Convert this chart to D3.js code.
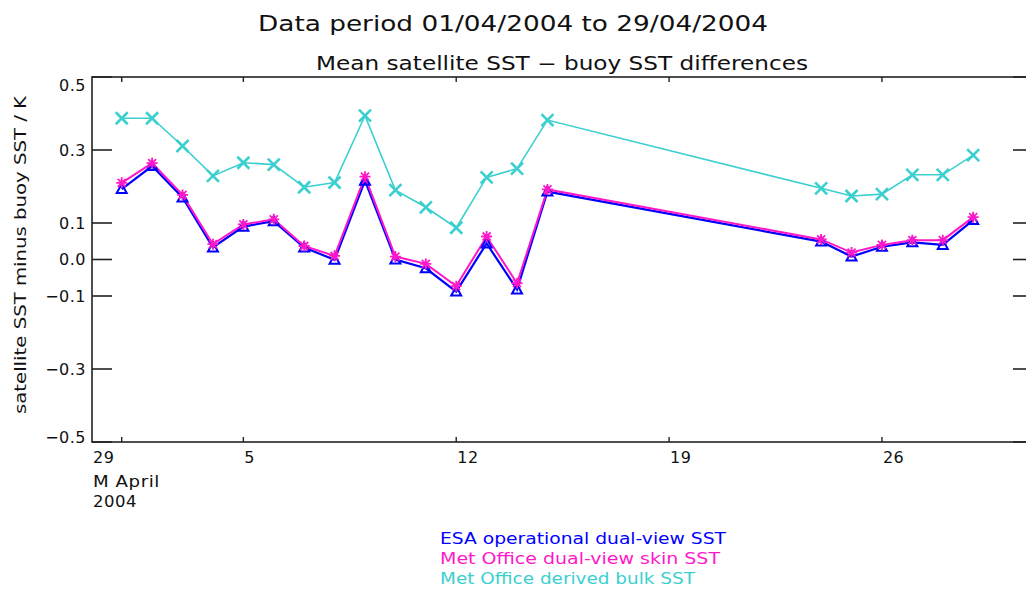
<!DOCTYPE html>
<html>
<head>
<meta charset="utf-8">
<title>Mean satellite SST - buoy SST differences</title>
<script src="https://d3js.org/d3.v7.min.js"></script>
<style>
	body { margin: 0; background: #fff; }
	svg { display: block; font-family: "DejaVu Sans", sans-serif; }
	.tick-label { font-size: 16px; fill: #111; letter-spacing: 0.5px; }
</style>
</head>
<body>
<svg width="1026" height="592"></svg>
<script>

// days of April 2004 that have data
var days = [1, 2, 3, 4, 5, 6, 7, 8, 9, 10, 11, 12, 13, 14, 15, 24, 25, 26, 27, 28, 29];

var esaSST  = [0.193, 0.256, 0.170, 0.033, 0.090, 0.105, 0.033, -0.001, 0.216, 0.000, -0.024, -0.088, 0.044, -0.082, 0.186,
               0.049, 0.008, 0.035, 0.047, 0.040, 0.108];
var skinSST = [0.210, 0.264, 0.177, 0.042, 0.096, 0.110, 0.037, 0.010, 0.227, 0.008, -0.012, -0.073, 0.063, -0.065, 0.192,
               0.055, 0.019, 0.040, 0.053, 0.053, 0.116];
var bulkSST = [0.387, 0.387, 0.311, 0.229, 0.265, 0.260, 0.198, 0.211, 0.394, 0.190, 0.143, 0.087, 0.225, 0.249, 0.382,
               0.195, 0.174, 0.179, 0.232, 0.232, 0.286];

var yTicks = [-0.5, -0.3, -0.1, 0.0, 0.1, 0.3, 0.5];
var xTickDays = [1, 5, 12, 19, 26];
var xTickLabels = ["29", "5", "12", "19", "26"];

var legendNames = ["ESA operational dual-view SST", "Met Office dual-view skin SST", "Met Office derived bulk SST"];
var seriesColors = ["#0000ff", "#ff18c8", "#3ccfcf"];

var svg = d3.select("svg");

var box = {left: 92, right: 1034, top: 77, bottom: 442};

var x = d3.scaleUtc()
	.domain([new Date(Date.UTC(2004, 2, 31)), new Date(Date.UTC(2004, 4, 1))])
	.range([box.left - 0.7, box.right]);
var y = d3.scaleLinear().domain([-0.5, 0.5]).range([box.bottom, box.top]);

function dayDate(d) { return new Date(Date.UTC(2004, 3, d)); }

// titles
svg.append("text")
	.attr("x", 258).attr("y", 31)
	.attr("textLength", 510).attr("lengthAdjust", "spacingAndGlyphs")
	.style("font-size", "22px").style("fill", "#111")
	.text("Data period 01/04/2004 to 29/04/2004");

svg.append("text")
	.attr("x", 316).attr("y", 70)
	.attr("textLength", 492).attr("lengthAdjust", "spacingAndGlyphs")
	.style("font-size", "19px").style("fill", "#111")
	.text("Mean satellite SST \u2212 buoy SST differences");

// frame
svg.append("rect")
	.attr("x", box.left).attr("y", box.top)
	.attr("width", box.right - box.left).attr("height", box.bottom - box.top)
	.attr("fill", "none").attr("stroke", "#222").attr("stroke-width", 1.6);

// y ticks both sides
svg.selectAll(".ytickL").data(yTicks).enter().append("line")
	.attr("x1", box.left).attr("x2", box.left + 20)
	.attr("y1", function(d) { return y(d); }).attr("y2", function(d) { return y(d); })
	.attr("stroke", "#222").attr("stroke-width", 1.6);
svg.selectAll(".ytickR").data(yTicks).enter().append("line")
	.attr("x1", box.right - 21).attr("x2", box.right)
	.attr("y1", function(d) { return y(d); }).attr("y2", function(d) { return y(d); })
	.attr("stroke", "#222").attr("stroke-width", 1.6);

svg.selectAll(".ylab").data(yTicks).enter().append("text")
	.attr("class", "tick-label")
	.attr("x", 86)
	.attr("y", function(d) {
		var py = y(d);
		if (d == 0.5) py += 8;
		if (d == -0.5) py -= 5;
		return py;
	})
	.attr("dy", "0.36em")
	.attr("text-anchor", "end")
	.text(function(d) { return (d < 0 ? "\u2212" : "") + Math.abs(d).toFixed(1); });

// x ticks top and bottom
svg.selectAll(".xtickB").data(xTickDays).enter().append("line")
	.attr("x1", function(d) { return x(dayDate(d)); }).attr("x2", function(d) { return x(dayDate(d)); })
	.attr("y1", box.bottom).attr("y2", box.bottom - 5)
	.attr("stroke", "#222").attr("stroke-width", 1.4);
svg.selectAll(".xtickT").data(xTickDays).enter().append("line")
	.attr("x1", function(d) { return x(dayDate(d)); }).attr("x2", function(d) { return x(dayDate(d)); })
	.attr("y1", box.top).attr("y2", box.top + 5)
	.attr("stroke", "#222").attr("stroke-width", 1.4);

svg.selectAll(".xlab").data(xTickDays).enter().append("text")
	.attr("class", "tick-label")
	.attr("x", function(d, i) { return i == 0 ? box.left + 1 : x(dayDate(d)) + 1; })
	.attr("y", 463)
	.text(function(d, i) { return xTickLabels[i]; });

svg.append("text").attr("class", "tick-label").attr("x", 93).attr("y", 487)
	.attr("textLength", 67).attr("lengthAdjust", "spacingAndGlyphs").text("M  April");
svg.append("text").attr("class", "tick-label").attr("x", 93).attr("y", 507)
	.attr("textLength", 44).attr("lengthAdjust", "spacingAndGlyphs").text("2004");

// y axis title
svg.append("text")
	.attr("transform", "translate(26,255) rotate(-90)")
	.attr("text-anchor", "middle")
	.attr("textLength", 318).attr("lengthAdjust", "spacingAndGlyphs")
	.style("font-size", "16px").style("fill", "#111")
	.text("satellite SST minus buoy SST / K");

// series
var series = [esaSST, skinSST, bulkSST].map(function(vals, k) {
	return { color: seriesColors[k], pts: days.map(function(d, i) { return { date: dayDate(d), v: vals[i] }; }) };
});

var line = d3.line()
	.x(function(d) { return x(d.date); })
	.y(function(d) { return y(d.v); });

var widths = [2.2, 2.0, 1.6];
series.forEach(function(s, k) {
	svg.append("path")
		.datum(s.pts)
		.attr("d", line)
		.attr("fill", "none")
		.attr("stroke", s.color)
		.attr("stroke-width", widths[k]);
});

// markers
function triangle(px, py) {
	return "M" + (px - 5) + "," + (py + 4) + "L" + (px + 5) + "," + (py + 4) + "L" + px + "," + (py - 5) + "Z";
}
function star(px, py) {
	var r = 5.5, d = 4;
	return "M" + px + "," + (py - r) + "L" + px + "," + (py + r) +
		"M" + (px - r) + "," + py + "L" + (px + r) + "," + py +
		"M" + (px - d) + "," + (py - d) + "L" + (px + d) + "," + (py + d) +
		"M" + (px - d) + "," + (py + d) + "L" + (px + d) + "," + (py - d);
}
function cross(px, py) {
	var r = 6;
	return "M" + (px - r) + "," + (py - r) + "L" + (px + r) + "," + (py + r) +
		"M" + (px - r) + "," + (py + r) + "L" + (px + r) + "," + (py - r);
}

var shapes = [triangle, star, cross];
var mwidths = [2, 1.8, 2.6];
series.forEach(function(s, k) {
	svg.selectAll(".m" + k).data(s.pts).enter().append("path")
		.attr("d", function(d) { return shapes[k](x(d.date), y(d.v)); })
		.attr("fill", "none")
		.attr("stroke", s.color)
		.attr("stroke-width", mwidths[k]);
});

// legend (coloured text only)
var legendWidths = [286, 280, 255];
svg.selectAll(".leg").data(legendNames).enter().append("text")
	.attr("x", 440)
	.attr("y", function(d, i) { return 544 + i * 20; })
	.attr("textLength", function(d, i) { return legendWidths[i]; })
	.attr("lengthAdjust", "spacingAndGlyphs")
	.style("font-size", "16px")
	.style("fill", function(d, i) { return seriesColors[i]; })
	.text(function(d) { return d; });

</script>
</body>
</html>
